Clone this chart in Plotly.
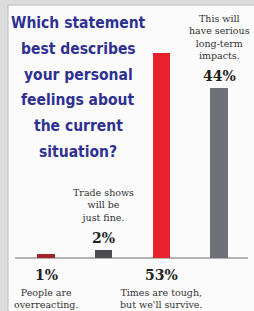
import plotly.graph_objects as go

# ---- data ----
categories = ["People are overreacting.", "Trade shows will be just fine.",
              "Times are tough, but we'll survive.", "This will have serious long-term impacts."]
values = [1, 2, 53, 44]
pct_labels = ["1%", "2%", "53%", "44%"]
statement_lines = [
    "People are<br>overreacting.",
    "Trade shows<br>will be<br>just fine.",
    "Times are tough,<br>but we'll survive.",
    "This will<br>have serious<br>long-term<br>impacts.",
]
label_above = [False, True, False, True]
bar_colors = ["#A3242E", "#4D4D4F", "#E8222B", "#6D7077"]
title_lines = ["Which statement", "best describes", "your personal", "feelings about",
               "the current", "situation?"]

W, H = 254, 311
xs = list(range(len(values)))

fig = go.Figure()
fig.add_trace(go.Bar(x=xs, y=values, width=0.30, marker=dict(color=bar_colors, line=dict(width=0)),
                     hoverinfo="skip", showlegend=False))

serif = "DejaVu Serif"
annotations = []
for i, (v, p, s, above) in enumerate(zip(values, pct_labels, statement_lines, label_above)):
    if above:
        annotations.append(dict(x=i, y=v, xref="x", yref="y", text=f"<b>{p}</b>", showarrow=False,
                                yanchor="bottom", yshift=2, font=dict(family=serif, size=14, color="#222222")))
        annotations.append(dict(x=i, y=v, xref="x", yref="y", text=s, showarrow=False,
                                yanchor="bottom", yshift=25, font=dict(family=serif, size=9.5, color="#333333")))
    else:
        annotations.append(dict(x=i, y=0, xref="x", yref="y", text=f"<b>{p}</b>", showarrow=False,
                                yanchor="top", yshift=-7, font=dict(family=serif, size=14, color="#222222")))
        annotations.append(dict(x=i, y=0, xref="x", yref="y", text=s, showarrow=False,
                                yanchor="top", yshift=-27, font=dict(family=serif, size=9.5, color="#333333")))

for k, line in enumerate(title_lines):
    ypx = 23 + 25.8 * k
    annotations.append(dict(x=78 / W, y=1 - ypx / H, xref="paper", yref="paper", text=f"<b>{line}</b>",
                            showarrow=False, xanchor="center", yanchor="middle", align="center",
                            font=dict(family="DejaVu Sans Condensed, sans-serif", size=15.5, color="#2E3192")))

px_per_unit_x = 57.67
x0 = -46 / px_per_unit_x
x1 = (W - 46) / px_per_unit_x
px_per_pct = 3.87
y1 = 258 / px_per_pct
y0 = -(H - 258) / px_per_pct

shapes = [
    dict(type="rect", xref="paper", yref="paper", x0=8 / W, x1=1.02, y0=-0.02, y1=1 - 5 / H,
         fillcolor="#FBFBFB", line=dict(color="#BDBDBD", width=1), layer="below"),
    dict(type="line", xref="paper", yref="y", x0=15 / W, x1=248 / W, y0=0, y1=0,
         line=dict(color="#9C9C9C", width=1.5), layer="below"),
]

fig.update_layout(
    width=W, height=H, margin=dict(l=0, r=0, t=0, b=0),
    paper_bgcolor="#DCDCDC", plot_bgcolor="rgba(0,0,0,0)",
    xaxis=dict(range=[x0, x1], visible=False, fixedrange=True),
    yaxis=dict(range=[y0, y1], visible=False, fixedrange=True),
    annotations=annotations, shapes=shapes, showlegend=False, bargap=0,
)
fig.write_html("out.html", config={"displayModeBar": False},
               post_script="document.body.style.margin='0';document.body.style.overflow='hidden';")
